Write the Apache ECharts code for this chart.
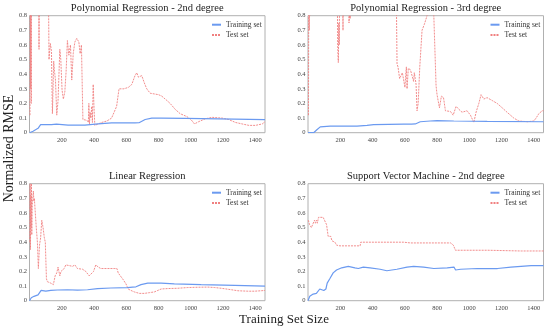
<!DOCTYPE html>
<html>
<head>
<meta charset="utf-8">
<script src="https://cdn.jsdelivr.net/npm/echarts@6/dist/echarts.min.js"></script>
<style>html,body{margin:0;padding:0;background:#fff}#c{width:550px;height:332px}</style>
</head>
<body>
<div id="c"></div>
<script>
// ---- data ----
const panelTitles = ['Polynomial Regression - 2nd degree', 'Polynomial Regression - 3rd degree', 'Linear Regression', 'Support Vector Machine - 2nd degree'];
const seriesNames = ['Training set', 'Test set'];
const xTicks = [200, 400, 600, 800, 1000, 1200, 1400];
const yTicks = [0, 0.1, 0.2, 0.3, 0.4, 0.5, 0.6, 0.7, 0.8];
const yAxisTitle = 'Normalized RMSE';
const xAxisTitle = 'Training Set Size';

const poly2Train = [[0,0],[22,0.01],[32,0.02],[53,0.03],[59,0.04],[69,0.055],[84,0.055],[136,0.055],[167,0.058],[239,0.052],[343,0.052],[426,0.06],[509,0.067],[654,0.067],[679,0.068],[717,0.09],[758,0.1],[820,0.1],[966,0.098],[1173,0.095],[1460,0.09]];
const poly2Test = [[3,0.12],[5,1.2],[7,0.3],[9,1.1],[11,0.2],[13,1.3],[20,1.5],[56,1.3],[59,0.57],[62,1.3],[115,1.3],[121,0.5],[129,0.61],[133,0.6],[136,0.56],[142,0.13],[146,0.3],[150,0.49],[155,0.42],[161,0.36],[169,0.12],[177,0.22],[188,0.57],[194,0.5],[202,0.29],[210,0.23],[219,0.28],[227,0.42],[235,0.63],[244,0.53],[254,0.6],[262,0.36],[271,0.54],[281,0.62],[293,0.645],[306,0.62],[314,0.54],[322,0.6],[331,0.09],[343,0.08],[356,0.085],[365,0.07],[368,0.2],[372,0.06],[376,0.14],[380,0.1],[386,0.18],[390,0.07],[395,0.33],[399,0.2],[405,0.05],[426,0.06],[447,0.07],[480,0.08],[509,0.1],[540,0.18],[555,0.3],[585,0.3],[613,0.31],[634,0.33],[644,0.36],[654,0.39],[665,0.41],[675,0.38],[696,0.39],[712,0.34],[727,0.3],[748,0.27],[800,0.26],[820,0.25],[852,0.22],[872,0.2],[903,0.16],[934,0.13],[976,0.11],[1001,0.09],[1023,0.06],[1048,0.075],[1090,0.095],[1131,0.105],[1194,0.1],[1235,0.09],[1277,0.07],[1318,0.06],[1360,0.05],[1401,0.05],[1443,0.06],[1460,0.075]];

const poly3Train = [[0,0],[35,0],[55,0.02],[76,0.04],[86,0.045],[138,0.045],[304,0.045],[366,0.05],[407,0.055],[593,0.058],[641,0.058],[665,0.06],[696,0.075],[758,0.08],[800,0.083],[904,0.08],[1111,0.078],[1460,0.075]];
const poly3Test = [[3,0.12],[5,1.2],[8,0.7],[10,1.2],[13,0.8],[16,1.4],[40,1.5],[180,1.3],[184,0.6],[188,0.48],[191,0.75],[194,0.6],[197,1.2],[214,1.1],[217,0.7],[220,1.2],[250,1.1],[254,0.75],[258,0.8],[262,0.78],[266,1.2],[400,1.5],[545,1.2],[552,0.47],[558,0.45],[568,0.37],[576,0.38],[585,0.41],[593,0.4],[601,0.31],[606,0.4],[610,0.45],[614,0.3],[622,0.44],[635,0.43],[645,0.39],[655,0.35],[659,0.41],[665,0.37],[670,0.33],[676,0.15],[683,0.2],[693,0.45],[707,0.7],[721,0.74],[738,0.8],[745,1.0],[760,1.2],[775,1.0],[780,0.8],[794,0.32],[800,0.26],[815,0.17],[827,0.25],[840,0.24],[852,0.15],[883,0.145],[900,0.12],[918,0.18],[935,0.16],[955,0.14],[986,0.15],[1007,0.12],[1028,0.07],[1042,0.14],[1059,0.2],[1073,0.26],[1090,0.23],[1110,0.24],[1142,0.22],[1173,0.2],[1204,0.17],[1234,0.14],[1255,0.12],[1276,0.1],[1307,0.08],[1360,0.075],[1400,0.08],[1414,0.1],[1431,0.13],[1452,0.15],[1460,0.15]];

const linTrain = [[0,0],[11,0.02],[28,0.03],[53,0.04],[65,0.05],[72,0.07],[80,0.07],[101,0.065],[132,0.07],[173,0.073],[235,0.075],[297,0.072],[360,0.075],[422,0.083],[505,0.087],[608,0.09],[639,0.093],[660,0.095],[691,0.11],[733,0.12],[816,0.12],[898,0.115],[1064,0.11],[1272,0.105],[1460,0.1]];
const linTest = [[2,0.4],[4,0.8],[6,0.35],[8,0.72],[10,0.5],[12,0.8],[14,0.45],[17,0.65],[20,0.7],[24,0.75],[27,0.68],[30,0.7],[36,0.69],[42,0.5],[49,0.4],[55,0.22],[62,0.38],[69,0.43],[76,0.55],[84,0.5],[92,0.43],[98,0.4],[105,0.15],[111,0.13],[121,0.14],[132,0.12],[148,0.11],[159,0.17],[169,0.19],[177,0.23],[188,0.17],[195,0.2],[205,0.21],[215,0.22],[225,0.245],[246,0.24],[267,0.235],[281,0.245],[297,0.22],[329,0.215],[349,0.2],[370,0.17],[380,0.16],[397,0.2],[411,0.245],[426,0.23],[442,0.22],[484,0.22],[525,0.22],[542,0.22],[550,0.19],[563,0.17],[577,0.15],[598,0.115],[612,0.08],[629,0.07],[650,0.06],[681,0.05],[712,0.05],[743,0.055],[774,0.06],[795,0.07],[816,0.08],[857,0.083],[919,0.085],[981,0.09],[1044,0.092],[1106,0.093],[1148,0.09],[1189,0.085],[1251,0.075],[1292,0.068],[1354,0.065],[1396,0.065],[1460,0.07]];

const svmTrain = [[0,0],[11,0.03],[21,0.04],[32,0.045],[52,0.05],[63,0.055],[73,0.08],[84,0.075],[98,0.07],[111,0.08],[119,0.12],[135,0.15],[156,0.19],[177,0.21],[209,0.225],[250,0.235],[291,0.225],[312,0.22],[343,0.23],[385,0.225],[447,0.215],[489,0.205],[551,0.215],[614,0.23],[655,0.235],[717,0.23],[780,0.22],[863,0.225],[905,0.23],[915,0.21],[946,0.215],[1050,0.22],[1175,0.22],[1258,0.23],[1383,0.24],[1460,0.24]];
const svmTest = [[2,0.55],[6,0.54],[10,0.52],[21,0.5],[32,0.51],[40,0.55],[46,0.53],[52,0.55],[58,0.53],[65,0.57],[94,0.57],[104,0.56],[115,0.52],[125,0.44],[141,0.44],[148,0.41],[167,0.4],[177,0.38],[198,0.375],[323,0.375],[327,0.4],[593,0.4],[635,0.395],[884,0.395],[901,0.38],[914,0.345],[1114,0.345],[1322,0.34],[1460,0.34]];

const trainSets = [poly2Train, poly3Train, linTrain, svmTrain];
const testSets = [poly2Test, poly3Test, linTest, svmTest];

// ---- layout / style ----
const FONT = 'Liberation Serif';
const BLUE = '#6b9af0';
const RED = '#f08080';
const grids = [
  {left: 29.5, top: 15.7, width: 235.5, height: 117},
  {left: 308, top: 15.7, width: 235.5, height: 117},
  {left: 29.5, top: 183.7, width: 235.5, height: 117},
  {left: 308, top: 183.7, width: 235.5, height: 117}
];

const option = {
  animation: false,
  backgroundColor: '#fff',
  grid: grids.map(g => Object.assign({show: true, borderColor: '#b0b0b0', borderWidth: 1, containLabel: false}, g)),
  xAxis: grids.map((g, i) => ({
    type: 'value', gridIndex: i, min: 0, max: 1460, interval: 200,
    axisLine: {show: false}, axisTick: {show: false}, splitLine: {show: false},
    axisLabel: {
      fontFamily: FONT, fontSize: 6.5, color: '#444', margin: 4,
      formatter: v => (v > 0 && xTicks.indexOf(v) >= 0) ? String(v) : ''
    }
  })),
  yAxis: grids.map((g, i) => ({
    type: 'value', gridIndex: i, min: 0, max: 0.8, interval: 0.1,
    axisLine: {show: false}, axisTick: {show: false}, splitLine: {show: false},
    axisLabel: {
      fontFamily: FONT, fontSize: 6.5, color: '#444', margin: 2.5,
      formatter: v => {
        const t = yTicks.find(k => Math.abs(k - v) < 1e-6);
        return t === undefined ? '' : (t === 0 ? '0' : t.toFixed(1));
      }
    }
  })),
  legend: grids.map(g => ({
    orient: 'vertical',
    left: g.left + g.width - 54,
    top: g.top + 5,
    padding: 0,
    itemWidth: 9, itemHeight: 7, itemGap: 2.4,
    data: seriesNames,
    itemStyle: {opacity: 0},
    textStyle: {fontFamily: FONT, fontSize: 7.5, color: '#333'},
    selectedMode: false
  })),
  series: [],
  graphic: []
};

for (let i = 0; i < 4; i++) {
  option.series.push({
    name: seriesNames[0], type: 'line', xAxisIndex: i, yAxisIndex: i,
    data: trainSets[i], symbol: 'none', clip: true, z: 3,
    lineStyle: {color: BLUE, width: 1.2}, itemStyle: {color: BLUE}
  });
  option.series.push({
    name: seriesNames[1], type: 'line', xAxisIndex: i, yAxisIndex: i,
    data: testSets[i], symbol: 'none', clip: true, z: 2,
    lineStyle: {color: RED, width: 0.9, type: [2, 1]}, itemStyle: {color: RED}
  });
  const g = grids[i];
  option.graphic.push({
    type: 'text', silent: true,
    x: g.left + g.width / 2, y: g.top - 7,
    style: {text: panelTitles[i], fontFamily: FONT, fontSize: 10.5, fill: '#222', textAlign: 'center', textVerticalAlign: 'middle'}
  });
}
option.graphic.push({
  type: 'text', silent: true, x: 9, y: 148.5, rotation: Math.PI / 2,
  style: {text: yAxisTitle, fontFamily: FONT, fontSize: 14, fill: '#222', textAlign: 'center', textVerticalAlign: 'middle'}
});
option.graphic.push({
  type: 'text', silent: true, x: 284, y: 320,
  style: {text: xAxisTitle, fontFamily: FONT, fontSize: 13, fill: '#222', textAlign: 'center', textVerticalAlign: 'middle'}
});

const chart = echarts.init(document.getElementById('c'), null, {renderer: 'canvas'});
chart.setOption(option);
</script>
</body>
</html>
